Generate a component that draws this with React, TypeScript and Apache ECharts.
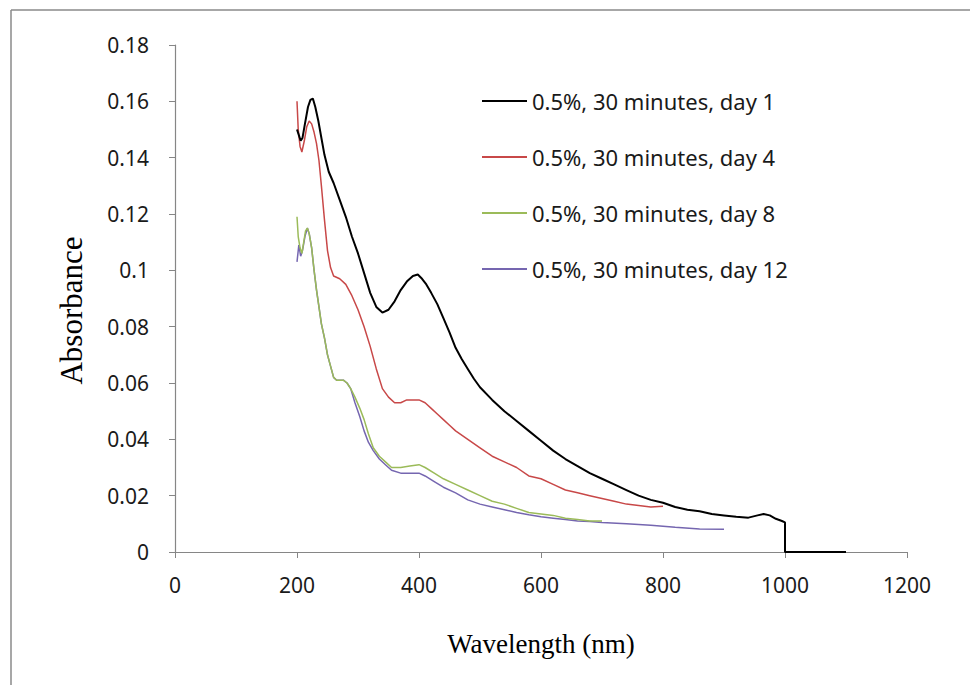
import React, { useEffect, useRef } from "react";
import * as echarts from "echarts";

const seriesNames = [
  "0.5%, 30 minutes, day 1",
  "0.5%, 30 minutes, day 4",
  "0.5%, 30 minutes, day 8",
  "0.5%, 30 minutes, day 12",
];

const xTicks = [0, 200, 400, 600, 800, 1000, 1200];
const yTicks = [0, 0.02, 0.04, 0.06, 0.08, 0.1, 0.12, 0.14, 0.16, 0.18];

const wlDay1 = [200, 203, 206, 209, 213, 218, 222, 226, 230, 235, 240, 245, 252, 260, 270, 280, 290, 300, 310, 320, 330, 340, 350, 360, 370, 380, 390, 398, 405, 412, 420, 430, 440, 450, 460, 470, 480, 490, 500, 520, 540, 560, 580, 600, 620, 640, 660, 680, 700, 720, 740, 760, 780, 800, 820, 840, 860, 880, 900, 920, 940, 955, 965, 975, 985, 995, 1000, 1000, 1050, 1100];
const absDay1 = [0.150, 0.148, 0.146, 0.147, 0.152, 0.158, 0.1605, 0.161, 0.158, 0.153, 0.147, 0.141, 0.135, 0.131, 0.125, 0.119, 0.112, 0.106, 0.099, 0.092, 0.087, 0.085, 0.086, 0.089, 0.093, 0.096, 0.098, 0.0985, 0.097, 0.095, 0.092, 0.088, 0.083, 0.078, 0.0725, 0.0685, 0.065, 0.0615, 0.0585, 0.054, 0.050, 0.0465, 0.043, 0.0395, 0.036, 0.033, 0.0305, 0.028, 0.026, 0.024, 0.022, 0.020, 0.0185, 0.0175, 0.016, 0.015, 0.0145, 0.0135, 0.013, 0.0125, 0.0122, 0.013, 0.0135, 0.013, 0.0118, 0.011, 0.0105, 0, 0, 0];

const wlDay4 = [200, 202, 205, 208, 212, 216, 220, 224, 228, 232, 236, 240, 245, 250, 255, 260, 270, 280, 290, 300, 310, 320, 330, 340, 350, 360, 370, 380, 390, 400, 410, 420, 430, 440, 450, 460, 480, 500, 520, 540, 560, 580, 600, 620, 640, 660, 680, 700, 720, 740, 760, 780, 800];
const absDay4 = [0.160, 0.150, 0.144, 0.142, 0.146, 0.151, 0.153, 0.152, 0.149, 0.145, 0.139, 0.130, 0.118, 0.107, 0.101, 0.098, 0.097, 0.095, 0.091, 0.086, 0.080, 0.073, 0.065, 0.058, 0.055, 0.053, 0.053, 0.054, 0.054, 0.054, 0.053, 0.051, 0.049, 0.047, 0.045, 0.043, 0.040, 0.037, 0.034, 0.032, 0.030, 0.027, 0.026, 0.024, 0.022, 0.021, 0.020, 0.019, 0.018, 0.017, 0.0165, 0.016, 0.0162];

const wlDay8 = [200, 202, 205, 208, 211, 214, 217, 220, 224, 228, 232, 236, 240, 245, 250, 255, 260, 265, 270, 276, 282, 288, 295, 303, 310, 317, 325, 335, 345, 355, 370, 385, 400, 410, 425, 440, 460, 480, 500, 520, 540, 560, 580, 600, 620, 640, 660, 680, 700];
const absDay8 = [0.119, 0.112, 0.108, 0.106, 0.110, 0.114, 0.115, 0.113, 0.108, 0.100, 0.093, 0.087, 0.081, 0.076, 0.070, 0.066, 0.062, 0.061, 0.061, 0.061, 0.060, 0.058, 0.055, 0.051, 0.047, 0.042, 0.037, 0.034, 0.032, 0.030, 0.030, 0.0305, 0.031, 0.030, 0.028, 0.026, 0.024, 0.022, 0.020, 0.018, 0.017, 0.0155, 0.014, 0.0135, 0.013, 0.012, 0.0115, 0.011, 0.011];

const wlDay12 = [200, 203, 206, 209, 213, 217, 220, 224, 228, 232, 236, 240, 245, 250, 255, 260, 265, 270, 276, 282, 288, 295, 303, 310, 317, 325, 335, 345, 355, 370, 385, 400, 410, 425, 440, 460, 480, 500, 520, 540, 560, 580, 600, 620, 640, 660, 680, 700, 740, 780, 820, 860, 900];
const absDay12 = [0.103, 0.109, 0.105, 0.107, 0.112, 0.115, 0.113, 0.108, 0.100, 0.093, 0.087, 0.081, 0.076, 0.070, 0.066, 0.062, 0.061, 0.061, 0.061, 0.060, 0.058, 0.053, 0.048, 0.043, 0.039, 0.036, 0.033, 0.031, 0.029, 0.028, 0.028, 0.028, 0.027, 0.025, 0.023, 0.021, 0.0185, 0.017, 0.016, 0.015, 0.014, 0.0132, 0.0125, 0.012, 0.0115, 0.011, 0.0108, 0.0105, 0.010, 0.0095, 0.0088, 0.0082, 0.0081];

const zip = (xs: number[], ys: number[]) => xs.map((x, i) => [x, ys[i]]);

export default function App() {
  const ref = useRef<HTMLDivElement>(null);
  useEffect(() => {
    if (!ref.current) return;
    const chart = echarts.init(ref.current, null, { renderer: "svg" });
    const colors = ["#000000", "#c84848", "#9bbb59", "#7566b0"];
    const widths = [2, 1.5, 1.5, 1.5];
    const datas = [zip(wlDay1, absDay1), zip(wlDay4, absDay4), zip(wlDay8, absDay8), zip(wlDay12, absDay12)];
    const sans = "'Noto Sans', 'Open Sans', sans-serif";
    const serif = "'Liberation Serif', 'DejaVu Serif', serif";
    chart.setOption({
      animation: false,
      backgroundColor: "#ffffff",
      grid: { left: 175, top: 45, right: 63, bottom: 133, containLabel: false },
      legend: {
        orient: "vertical",
        left: 482,
        top: 90,
        padding: 0,
        itemWidth: 45,
        itemHeight: 2,
        itemGap: 34,
        icon: "rect",
        textStyle: { fontFamily: sans, fontSize: 22, color: "#1a1a1a", lineHeight: 22 },
        data: seriesNames,
      },
      xAxis: {
        type: "value",
        min: 0,
        max: 1200,
        interval: 200,
        name: "Wavelength (nm)",
        nameLocation: "middle",
        nameGap: 78,
        nameTextStyle: { fontFamily: serif, fontSize: 27, color: "#000" },
        axisLine: { show: true, lineStyle: { color: "#868686", width: 1.2 } },
        axisTick: { show: true, length: 6, lineStyle: { color: "#868686" } },
        axisLabel: {
          margin: 22,
          fontFamily: sans,
          fontSize: 21,
          color: "#1a1a1a",
          formatter: (v: number) => {
            const t = xTicks.find((x) => Math.abs(x - v) < 1e-6);
            return String(t !== undefined ? t : Math.round(v));
          },
        },
        splitLine: { show: false },
      },
      yAxis: {
        type: "value",
        min: 0,
        max: 0.18,
        interval: 0.02,
        name: "Absorbance",
        nameLocation: "middle",
        nameGap: 88,
        nameRotate: 90,
        nameTextStyle: { fontFamily: serif, fontSize: 31, color: "#000", padding: [0, 24, 0, 0] },
        axisLine: { show: true, lineStyle: { color: "#868686", width: 1.2 } },
        axisTick: { show: true, length: 6, lineStyle: { color: "#868686" } },
        axisLabel: {
          margin: 26,
          fontFamily: sans,
          fontSize: 21,
          color: "#1a1a1a",
          formatter: (v: number) => {
            const t = yTicks.find((y) => Math.abs(y - v) < 1e-9);
            return String(t !== undefined ? parseFloat(t.toFixed(2)) : parseFloat(v.toFixed(2)));
          },
        },
        splitLine: { show: false },
      },
      graphic: [
        { type: "line", shape: { x1: 11, y1: 10, x2: 11, y2: 685 }, style: { stroke: "#8a8a8a", lineWidth: 1.5 } },
        { type: "line", shape: { x1: 11, y1: 10, x2: 970, y2: 10 }, style: { stroke: "#8a8a8a", lineWidth: 1.5 } },
      ],
      series: seriesNames.map((name, i) => ({
        name,
        type: "line",
        data: datas[i],
        showSymbol: false,
        symbol: "none",
        lineStyle: { color: colors[i], width: widths[i] },
        itemStyle: { color: colors[i] },
        z: 10 - i,
      })),
    });
    return () => chart.dispose();
  }, []);
  return <div ref={ref} style={{ position: "fixed", left: 0, top: 0, width: 970, height: 685, background: "#fff" }} />;
}
